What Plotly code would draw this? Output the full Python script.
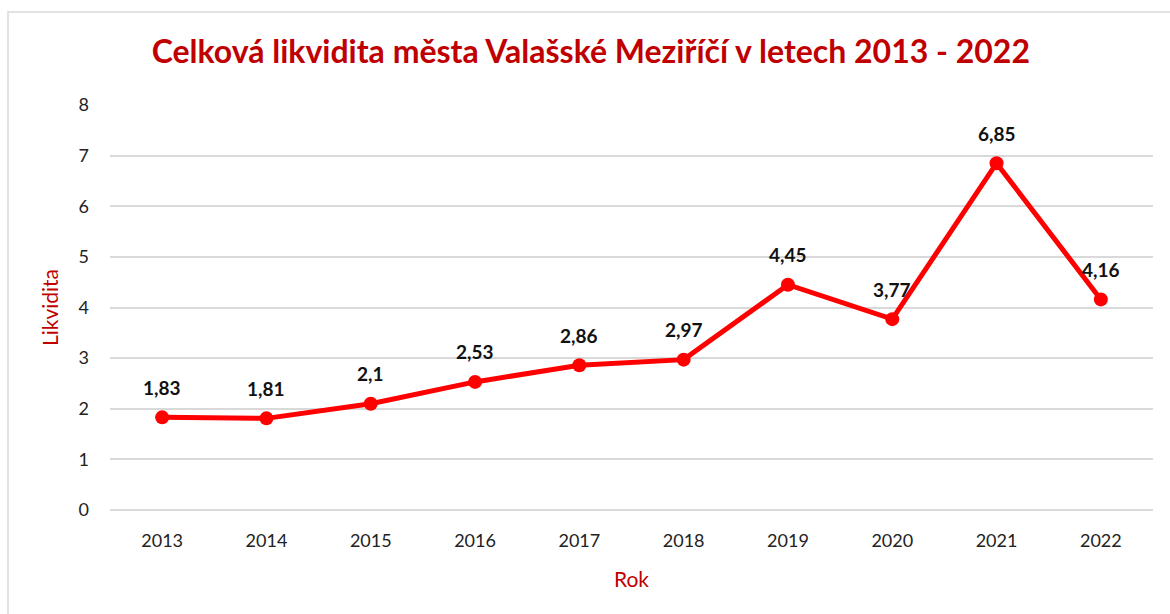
import plotly.graph_objects as go

years = ["2013", "2014", "2015", "2016", "2017", "2018", "2019", "2020", "2021", "2022"]
likvidita = [1.83, 1.81, 2.1, 2.53, 2.86, 2.97, 4.45, 3.77, 6.85, 4.16]
labels = [str(v).replace(".", ",") for v in likvidita]

W, H = 1170, 614
L, R, T, B = 110, 17, 105, 104
pw = W - L - R
ph = H - T - B

fig = go.Figure()
fig.add_trace(go.Scatter(
    x=years, y=likvidita, mode="lines+markers",
    line=dict(color="#FF0000", width=5),
    marker=dict(color="#FF0000", size=14),
    hoverinfo="skip", showlegend=False,
))

for i, (v, t) in enumerate(zip(likvidita, labels)):
    fig.add_annotation(x=i, y=v, xref="x", yref="y", text="<b>%s</b>" % t, showarrow=False,
                       yshift=30, font=dict(family="Lato", size=19, color="#111111"))

fig.add_shape(type="rect", xref="paper", yref="paper",
              x0=(8 - L) / pw, x1=(W + 5 - L) / pw,
              y0=-(H + 5 - T - ph) / ph, y1=(H - 12 - B) / ph,
              line=dict(color="#d9d9d9", width=1.5), layer="below")

fig.update_layout(
    width=W, height=H,
    margin=dict(l=L, r=R, t=T, b=B),
    paper_bgcolor="white", plot_bgcolor="white",
    title=dict(text="<b>Celková likvidita města Valašské Meziříčí v letech 2013 - 2022</b>",
               x=0.505, xanchor="center", y=1 - 52 / H, yanchor="middle", yref="container",
               font=dict(family="Lato", size=32, color="#C00000")),
    font=dict(family="Lato", size=18, color="#222222"),
    xaxis=dict(type="category", range=[-0.5, 9.5], showgrid=False, showline=False,
               zeroline=False, ticks="", ticklabelstandoff=18,
               title=dict(text="Rok", font=dict(family="Lato", size=21, color="#C00000"), standoff=22)),
    yaxis=dict(range=[0, 8], dtick=1, showgrid=True, gridcolor="#d9d9d9", gridwidth=1.5,
               zeroline=True, zerolinecolor="#d9d9d9", zerolinewidth=1.5, showline=False,
               ticks="", ticklabelstandoff=20,
               title=dict(text="Likvidita", font=dict(family="Lato", size=21, color="#C00000"), standoff=14)),
)

fig.write_html("out.html", config={"displayModeBar": False},
               post_script="document.body.style.margin='0';document.body.style.overflow='hidden';")
